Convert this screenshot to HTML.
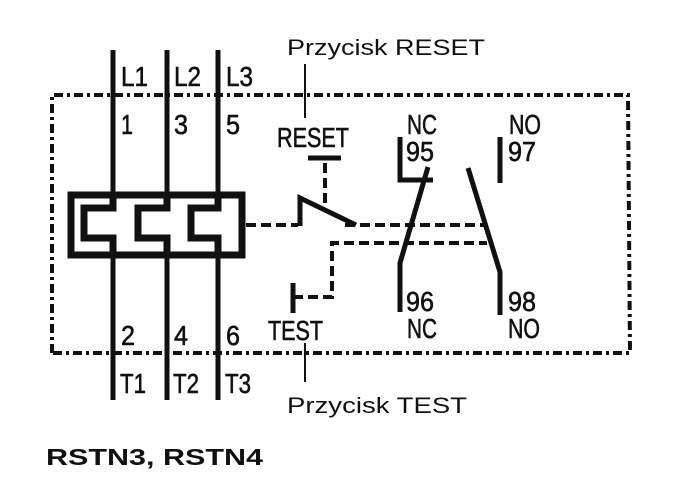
<!DOCTYPE html>
<html><head><style>
html,body{margin:0;padding:0;background:#fff;}
svg{display:block;}
text{font-family:"Liberation Sans",sans-serif;fill:#111;}
</style></head><body>
<svg width="700" height="490" viewBox="0 0 700 490" xmlns="http://www.w3.org/2000/svg">
<path d="M52,353 L52,95 L628,95 L630,353 Z" fill="none" stroke="#111" stroke-width="4" stroke-dasharray="9 4 3 4"/>
<g stroke="#111" stroke-width="5" fill="none">
<line x1="113" y1="50" x2="113" y2="400"/>
<line x1="167" y1="50" x2="167" y2="400"/>
<line x1="218" y1="50" x2="218" y2="400"/>
</g>
<rect x="71" y="195" width="171" height="60" fill="#fff" stroke="#111" stroke-width="7"/>
<g fill="none" stroke="#111" stroke-width="7" stroke-linejoin="miter">
<path d="M113,195 L113,208 L84,208 L84,238 L113,238 L113,255"/>
<path d="M167,195 L167,208 L138,208 L138,238 L167,238 L167,255"/>
<path d="M218,195 L218,208 L191,208 L191,238 L218,238 L218,255"/>
</g>
<g stroke="#111" stroke-width="4" fill="none" stroke-dasharray="10 5">
<line x1="246" y1="225" x2="298" y2="225"/>
<line x1="345" y1="225" x2="485" y2="225"/>
<line x1="325" y1="163" x2="325" y2="205"/>
<path d="M293,297 L332,297 L332,243 L487,243"/>
</g>
<g stroke="#111" stroke-width="5" fill="none">
<path d="M300,226 L300,198 L356,225"/>
<line x1="308" y1="158" x2="341" y2="158"/>
<line x1="293" y1="283" x2="293" y2="313"/>
<path d="M400,137 L400,180 L433,180"/>
<path d="M428,167 L400,263 L400,312"/>
<line x1="500" y1="137" x2="500" y2="183"/>
<path d="M468,168 L500,272 L500,315"/>
</g>
<g stroke="#111" stroke-width="2">
<line x1="305" y1="64" x2="305" y2="118"/>
<line x1="305" y1="343" x2="305" y2="382"/>
</g>
<g font-size="28" stroke="#111" stroke-width="0.6">
<text x="121" y="86" textLength="27" lengthAdjust="spacingAndGlyphs">L1</text>
<text x="174" y="86" textLength="27" lengthAdjust="spacingAndGlyphs">L2</text>
<text x="226" y="86" textLength="27" lengthAdjust="spacingAndGlyphs">L3</text>
<text x="121" y="134" textLength="12" lengthAdjust="spacingAndGlyphs">1</text>
<text x="174" y="134" textLength="14" lengthAdjust="spacingAndGlyphs">3</text>
<text x="226" y="134" textLength="14" lengthAdjust="spacingAndGlyphs">5</text>
<text x="121" y="345" textLength="14" lengthAdjust="spacingAndGlyphs">2</text>
<text x="174" y="345" textLength="14" lengthAdjust="spacingAndGlyphs">4</text>
<text x="226" y="345" textLength="14" lengthAdjust="spacingAndGlyphs">6</text>
<text x="120" y="393" textLength="26" lengthAdjust="spacingAndGlyphs">T1</text>
<text x="173" y="393" textLength="26" lengthAdjust="spacingAndGlyphs">T2</text>
<text x="225" y="393" textLength="26" lengthAdjust="spacingAndGlyphs">T3</text>
<text x="277" y="147" textLength="72" lengthAdjust="spacingAndGlyphs">RESET</text>
<text x="268" y="340" textLength="55" lengthAdjust="spacingAndGlyphs">TEST</text>
<text x="407" y="134" textLength="30" lengthAdjust="spacingAndGlyphs">NC</text>
<text x="406" y="161" textLength="28" lengthAdjust="spacingAndGlyphs">95</text>
<text x="509" y="134" textLength="32" lengthAdjust="spacingAndGlyphs">NO</text>
<text x="508" y="161" textLength="28" lengthAdjust="spacingAndGlyphs">97</text>
<text x="406" y="311" textLength="28" lengthAdjust="spacingAndGlyphs">96</text>
<text x="407" y="338" textLength="30" lengthAdjust="spacingAndGlyphs">NC</text>
<text x="508" y="311" textLength="28" lengthAdjust="spacingAndGlyphs">98</text>
<text x="508" y="338" textLength="32" lengthAdjust="spacingAndGlyphs">NO</text>
</g>
<text x="287" y="55" font-size="22" textLength="198" lengthAdjust="spacingAndGlyphs">Przycisk RESET</text>
<text x="287" y="413" font-size="22" textLength="180" lengthAdjust="spacingAndGlyphs">Przycisk TEST</text>
<text x="46" y="465" font-size="23" font-weight="bold" textLength="217" lengthAdjust="spacingAndGlyphs">RSTN3, RSTN4</text>
</svg>
</body></html>
